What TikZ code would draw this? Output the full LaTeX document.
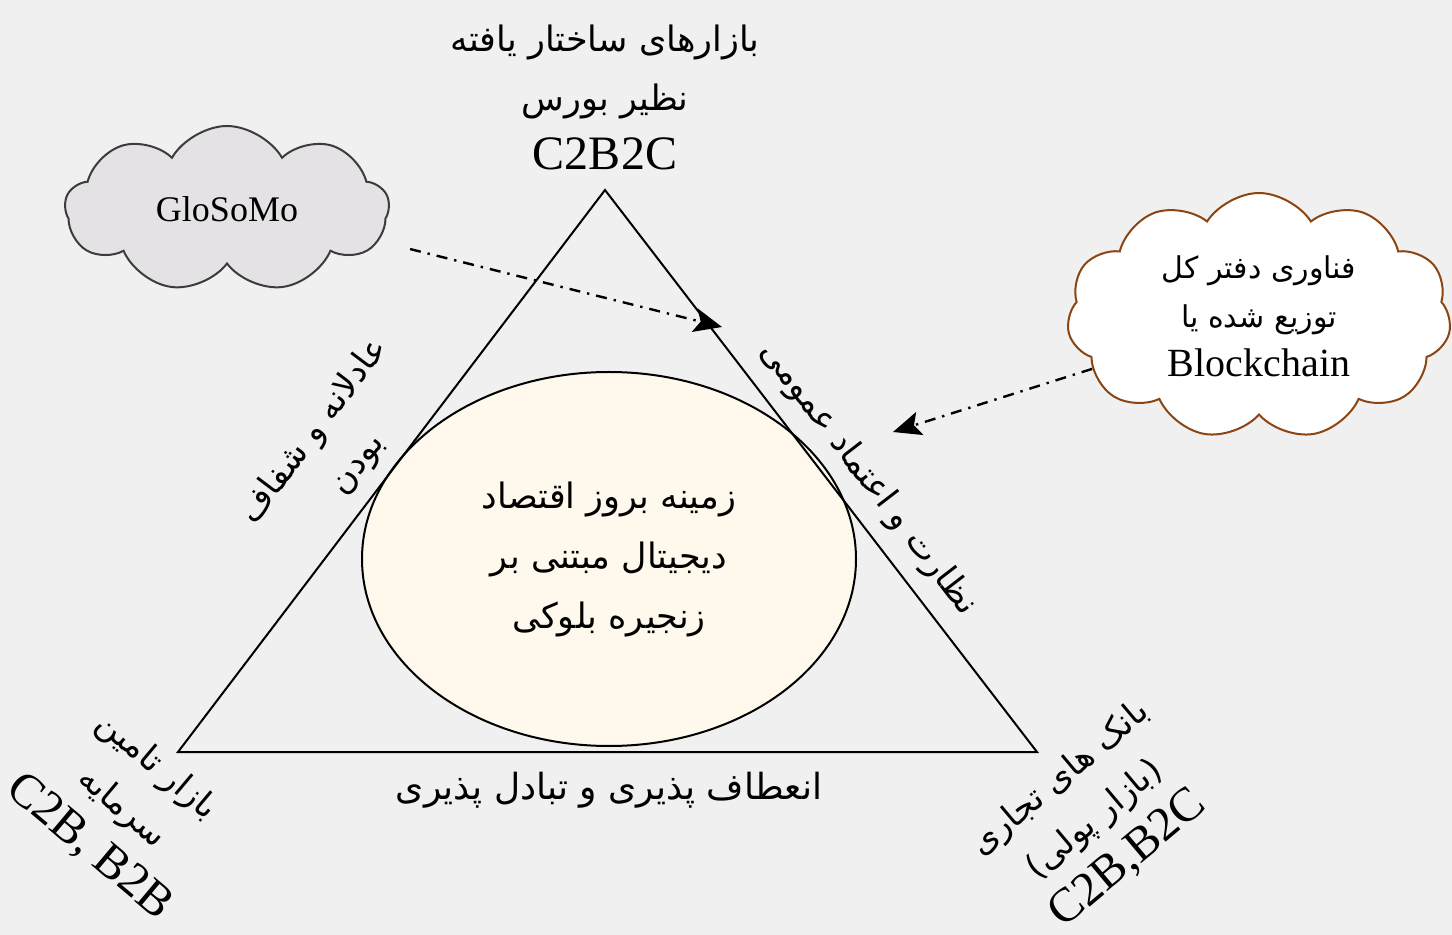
\documentclass[tikz,border=0pt]{standalone}
\usepackage{fontspec}
\setmainfont{Liberation Serif}
\newfontfamily\fafont[Script=Arabic]{DejaVu Sans}
\TeXXeTstate=1
\usetikzlibrary{arrows.meta,positioning,shapes.geometric,shapes.symbols}
\newcommand{\fatxt}[1]{{\fafont\beginR#1\endR}}
\definecolor{bggray}{RGB}{240,240,240}
\definecolor{cloudgray}{RGB}{228,226,228}
\definecolor{clouddark}{RGB}{60,60,60}
\definecolor{chainbrown}{RGB}{139,69,19}
\definecolor{cream}{RGB}{254,249,236}
\tikzset{
    %Define style for clouds
    graycloud/.style={
           cloud, cloud puffs=9, cloud puff arc=120, aspect=2,
           draw=clouddark, line width=1pt,
           fill=cloudgray,
           minimum width=162pt,
           minimum height=83pt,
           inner sep=0pt,
           font=\fontsize{18}{22}\selectfont},
    chaincloud/.style={
           cloud, cloud puffs=11, cloud puff arc=115, aspect=1.55,
           draw=chainbrown, line width=1pt,
           fill=white,
           minimum width=192pt,
           minimum height=123pt,
           inner sep=0pt,
           align=center,
           font=\fontsize{15}{24.5}\selectfont},
    core/.style={
           ellipse,
           draw=black, line width=1pt,
           fill=cream,
           minimum width=247pt,
           minimum height=187pt,
           align=center,
           font=\fontsize{17.5}{30}\selectfont},
    %Define style for labels
    falabel/.style={
           inner sep=0pt,
           align=center,
           font=\fontsize{17}{27}\selectfont},
    % Define arrow style
    pil/.style={
           -{Stealth[length=14pt,width=12pt,inset=3pt]},
           line width=1.2pt,
           dash pattern=on 5.5pt off 3.5pt on 1.2pt off 3.5pt}
}
\begin{document}
\begin{tikzpicture}[x=0.5pt,y=-0.5pt]
\fill[bggray] (0,0) rectangle (1452,935);
\useasboundingbox (0,0) rectangle (1452,935);

 %triangle
\coordinate (apex) at (605,190);
\coordinate (leftc) at (178,752);
\coordinate (rightc) at (1037,752);
\node[core] (ground) at (609,559)
  {\fatxt{زمینه بروز اقتصاد}\\ \fatxt{دیجیتال مبتنی بر}\\ \fatxt{زنجیره بلوکی}};
\draw[line width=1pt,line join=miter] (apex) -- (leftc) -- (rightc) -- cycle;

 %labels
\node[falabel, above=10pt of apex, font=\fontsize{17.5}{29.5}\selectfont] (toptext)
  {\fatxt{بازارهای ساختار یافته}\\ \fatxt{نظیر بورس}\\ {\fontsize{24}{29.5}\selectfont C2B2C}};
\node[falabel, rotate=53] (lefttext) at (336,448)
  {\fatxt{عادلانه و شفاف}\\ \fatxt{بودن}};
\node[falabel, rotate=-52.4] (righttext) at (868,479)
  {\fatxt{نظارت و اعتماد عمومی}};
\node[falabel, font=\fontsize{18}{27}\selectfont] (basetext) at (609,790)
  {\fatxt{انعطاف پذیری و تبادل پذیری}};
\node[falabel, rotate=-40] (lcorner) at (122,808)
  {\fatxt{بازار تامین}\\ \fatxt{سرمایه}\\ {\fontsize{24}{27}\selectfont C2B, B2B}};
\node[falabel, rotate=40] (rcorner) at (1095,820)
  {\fatxt{بانک های تجاری}\\ \fatxt{(بازار پولی)}\\ {\fontsize{24}{27}\selectfont C2B,B2C}};

 %clouds
\node[graycloud] (glosomo) at (227,209) {GloSoMo};
\node[chaincloud] (ledger) at (1259,316)
  {\fatxt{فناوری دفتر کل}\\ \fatxt{توزیع شده یا}\\ {\fontsize{20}{24.5}\selectfont Blockchain}};
\coordinate (gend) at (722,327);
\coordinate (lend) at (893,432);
\draw[pil, shorten <=16pt] (glosomo.-12) -- (gend);
\draw[pil] (ledger) -- (lend);
\end{tikzpicture}
\end{document}
